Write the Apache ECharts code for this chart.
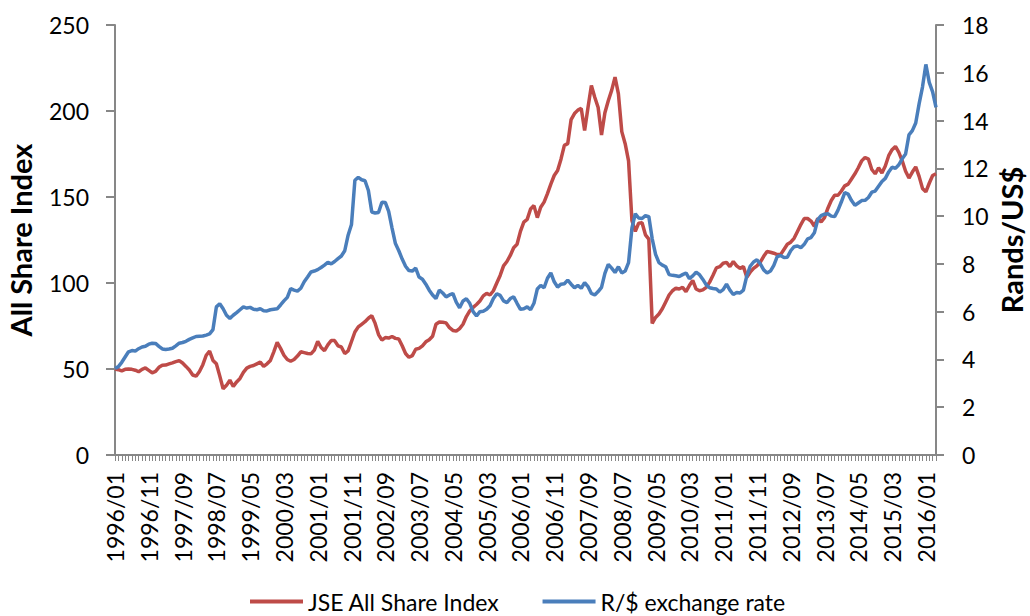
<!DOCTYPE html>
<html>
<head>
<meta charset="utf-8">
<title>JSE All Share Index and R/$ exchange rate</title>
<script src="https://cdn.jsdelivr.net/npm/echarts@6/dist/echarts.min.js"></script>
<style>
  html, body { margin: 0; padding: 0; background: #fff; }
  #chart { width: 1030px; height: 616px; }
</style>
</head>
<body>
<div id="chart"></div>
<script>
// monthly, 1996/01 .. 2016/04
const firstYear = 1996;
const monthCount = 244;
const months = [];
for (let i = 0; i < monthCount; i++) {
  const y = firstYear + Math.floor(i / 12);
  const m = (i % 12) + 1;
  months.push(y + '/' + (m < 10 ? '0' + m : m));
}

// JSE All Share Index (left axis), one row per year
const jseIndex = [
  50.0, 49.6, 48.9, 49.8, 50.0, 49.8, 49.3, 48.4, 49.8, 50.6, 49.2, 47.8,
  48.6, 51.0, 52.2, 52.3, 53.0, 53.6, 54.3, 54.9, 53.5, 51.5, 49.4, 46.5,
  45.8, 48.5, 52.5, 58.0, 60.4, 55.0, 53.0, 46.0, 38.5, 40.5, 43.5, 39.8,
  42.5, 44.5, 48.0, 50.5, 51.5, 52.0, 53.0, 54.0, 51.5, 53.0, 55.0, 60.0,
  65.5, 62.0, 58.0, 55.5, 54.5, 55.5, 57.5, 60.0, 59.5, 59.0, 58.8, 61.0,
  66.0, 62.5, 60.7, 64.0, 66.6, 66.5, 63.5, 62.8, 59.0, 60.5, 66.0, 71.5,
  74.5, 76.0, 77.5, 79.5, 81.0, 76.5, 70.0, 66.8, 68.3, 68.0, 68.9, 67.8,
  67.5, 63.5, 59.0, 56.8, 57.8, 61.5, 62.0, 63.5, 65.8, 67.0, 69.0, 76.0,
  77.3, 77.2, 76.8, 74.0, 72.4, 72.0, 73.5, 76.0, 80.5, 83.8, 85.8, 87.5,
  89.5, 92.5, 94.0, 93.0, 95.5, 100.0, 104.4, 110.0, 112.5, 116.0, 120.5, 122.5,
  130.0, 135.4, 137.0, 143.0, 145.0, 138.0, 144.0, 147.0, 152.0, 157.5, 162.5, 165.4,
  172.0, 180.0, 181.0, 195.0, 198.5, 200.5, 201.5, 188.6, 202.0, 214.8, 208.0, 202.0,
  186.0, 199.0, 206.0, 212.0, 219.7, 210.0, 188.0, 181.0, 171.0, 136.3, 130.0, 134.8,
  135.0, 128.0, 125.5, 76.5, 80.0, 82.0, 85.0, 89.0, 93.0, 95.5, 97.0, 96.5,
  97.5, 95.0, 98.5, 101.5, 96.5, 95.5, 96.0, 97.5, 100.5, 104.5, 108.8, 109.5,
  111.5, 112.0, 109.5, 112.5, 110.0, 108.5, 109.5, 103.4, 106.3, 108.5, 110.0, 112.1,
  115.5, 118.3, 117.9, 117.3, 116.5, 116.5, 119.5, 122.5, 123.7, 126.0, 130.0, 134.0,
  137.5, 137.5, 136.0, 133.0, 137.5, 135.5, 138.0, 143.5, 148.0, 151.0, 151.0, 153.5,
  156.5, 157.5, 160.5, 163.5, 167.0, 171.0, 173.0, 172.0, 166.0, 163.5, 167.0, 164.0,
  168.0, 174.0, 177.5, 179.4, 176.0, 171.0, 165.0, 161.0, 164.5, 167.5, 162.0, 155.0,
  153.0, 158.0, 162.5, 163.5
];

// Rand per US dollar (right axis)
const randPerDollar = [
  3.62, 3.70, 3.88, 4.10, 4.32, 4.37, 4.35, 4.45, 4.52, 4.55, 4.64, 4.68,
  4.67, 4.55, 4.44, 4.42, 4.44, 4.47, 4.57, 4.68, 4.71, 4.76, 4.84, 4.90,
  4.96, 4.97, 4.98, 5.02, 5.07, 5.25, 6.20, 6.33, 6.12, 5.85, 5.72, 5.85,
  5.96, 6.08, 6.20, 6.15, 6.18, 6.10, 6.08, 6.12, 6.04, 6.03, 6.08, 6.10,
  6.12, 6.28, 6.45, 6.60, 6.96, 6.90, 6.86, 6.98, 7.25, 7.45, 7.66, 7.70,
  7.76, 7.85, 7.95, 8.07, 8.00, 8.10, 8.22, 8.33, 8.55, 9.20, 9.65, 11.50,
  11.62, 11.52, 11.48, 11.07, 10.17, 10.13, 10.15, 10.58, 10.57, 10.20, 9.50, 8.85,
  8.55, 8.20, 7.90, 7.72, 7.70, 7.82, 7.45, 7.36, 7.15, 6.90, 6.70, 6.55,
  6.90, 6.78, 6.62, 6.70, 6.76, 6.40, 6.16, 6.45, 6.54, 6.35, 6.00, 5.82,
  6.00, 6.02, 6.10, 6.25, 6.55, 6.75, 6.68, 6.45, 6.38, 6.55, 6.62, 6.35,
  6.10, 6.12, 6.20, 6.08, 6.35, 6.95, 7.10, 7.00, 7.40, 7.62, 7.25, 7.03,
  7.15, 7.17, 7.32, 7.15, 7.00, 7.10, 6.98, 7.22, 7.05, 6.76, 6.70, 6.84,
  7.02, 7.60, 7.98, 7.82, 7.64, 7.88, 7.62, 7.70, 8.05, 9.50, 10.10, 9.92,
  9.90, 10.02, 9.98, 9.05, 8.40, 8.05, 7.95, 7.88, 7.55, 7.52, 7.50, 7.47,
  7.55, 7.62, 7.38, 7.50, 7.65, 7.55, 7.35, 7.12, 7.00, 6.97, 6.95, 6.82,
  6.92, 7.15, 6.90, 6.72, 6.80, 6.78, 6.90, 7.50, 7.90, 8.08, 8.17, 8.00,
  7.75, 7.62, 7.70, 7.94, 8.30, 8.35, 8.27, 8.28, 8.55, 8.72, 8.75, 8.68,
  8.82, 9.05, 9.10, 9.30, 9.85, 10.02, 10.08, 10.10, 10.00, 9.98, 10.25, 10.60,
  10.98, 10.92, 10.65, 10.45, 10.55, 10.65, 10.66, 10.78, 11.00, 11.05, 11.25, 11.45,
  11.58, 11.85, 12.05, 12.00, 12.15, 12.40, 12.60, 13.40, 13.58, 13.90, 14.70, 15.40,
  16.35, 15.60, 15.20, 14.55
];

const seriesNames = ['JSE All Share Index', 'R/$ exchange rate'];
const axisNames = ['All Share Index', 'Rands/US$'];

const font = 'Lato';
const axisGrey = '#878787';

const chart = echarts.init(document.getElementById('chart'), null, { renderer: 'svg' });

const valueAxis = (pos, max, step, name, gap, tickLen) => ({
  type: 'value',
  position: pos,
  min: 0,
  max: max,
  interval: step,
  name: name,
  nameLocation: 'middle',
  nameRotate: 90,
  nameGap: gap,
  nameMoveOverlap: false,
  nameTextStyle: { fontFamily: font, fontWeight: 'bold', fontSize: 29, lineHeight: 30, color: '#000' },
  axisLine: { show: true, lineStyle: { color: axisGrey, width: 2 } },
  axisTick: { show: true, inside: false, length: tickLen, lineStyle: { color: axisGrey, width: 2 } },
  axisLabel: { margin: 26, fontFamily: font, fontSize: 23, color: '#000' },
  splitLine: { show: false }
});

chart.setOption({
  animation: false,
  backgroundColor: '#fff',
  grid: { left: 115, right: 94, top: 25, bottom: 161, containLabel: false, outerBoundsMode: 'none' },
  legend: {
    data: seriesNames,
    left: 245,
    top: 585,
    icon: 'rect',
    itemWidth: 53,
    itemHeight: 4,
    itemGap: 43,
    textStyle: { fontFamily: font, fontSize: 23, color: '#000' }
  },
  xAxis: {
    type: 'category',
    data: months,
    boundaryGap: false,
    axisLine: { lineStyle: { color: axisGrey, width: 2 } },
    axisTick: { show: true, interval: 0, length: 6, lineStyle: { color: axisGrey, width: 1 } },
    axisLabel: { interval: 9, rotate: 90, margin: 17, fontFamily: font, fontSize: 23, color: '#000' },
    splitLine: { show: false }
  },
  yAxis: [
    valueAxis('left', 250, 50, axisNames[0], 80, 9),
    valueAxis('right', 18, 2, axisNames[1], 60, 8)
  ],
  series: [
    {
      name: seriesNames[0],
      type: 'line',
      yAxisIndex: 0,
      data: jseIndex,
      showSymbol: false,
      symbol: 'none',
      color: '#BE4B48',
      lineStyle: { width: 3.5, color: '#BE4B48' }
    },
    {
      name: seriesNames[1],
      type: 'line',
      yAxisIndex: 1,
      data: randPerDollar,
      showSymbol: false,
      symbol: 'none',
      color: '#4A7EBB',
      lineStyle: { width: 3.5, color: '#4A7EBB' }
    }
  ]
});
</script>
</body>
</html>
